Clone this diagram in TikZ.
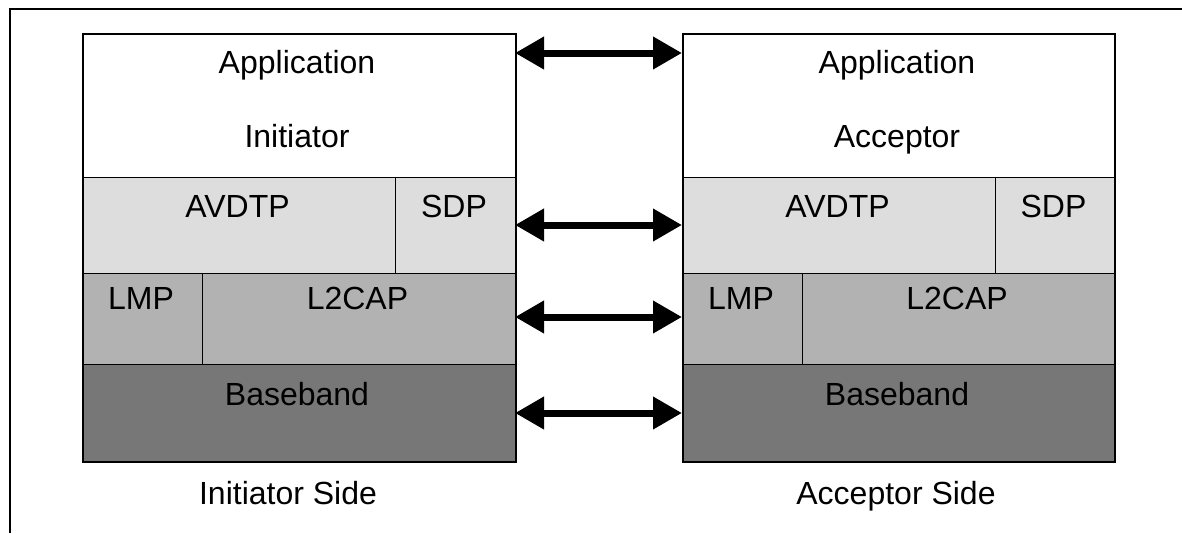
\documentclass[tikz,border=0pt]{standalone}
\usepackage{fontspec}
\setmainfont{Liberation Sans}
\usetikzlibrary{arrows.meta}
\definecolor{lay1}{HTML}{DDDDDD}
\definecolor{lay2}{HTML}{B2B2B2}
\definecolor{lay3}{HTML}{777777}
\tikzset{
  cell/.style={draw=black, line width=1.3pt, inner sep=0pt, anchor=north west},
  lbl/.style={anchor=base, inner sep=0pt, font=\fontsize{32}{38}\selectfont},
  outerbox/.style={draw=black, line width=2.2pt, inner sep=0pt, anchor=north west, fill=none},
  link/.style={line width=7pt, {Triangle[length=29pt,width=31pt]}-{Triangle[length=29pt,width=31pt]}},
  frameline/.style={line width=2pt, black}
}
\begin{document}
\begin{tikzpicture}[x=1pt,y=-1pt]
\useasboundingbox (0,0) rectangle (1182,533);
\fill[white] (0,0) rectangle (1182,533);
% frame
\coordinate (fa) at (10,533);
\coordinate (fb) at (10,8.7);
\coordinate (fc) at (1182,8.7);
\draw[frameline] (fa) -- (fb) -- (fc);
% left stack
\node[cell, fill=white, minimum width=433pt, minimum height=144pt] (appL) at (82,33) {};
\node[cell, fill=lay1, minimum width=313pt, minimum height=96pt] (avdtpL) at (82,177) {};
\node[cell, fill=lay1, minimum width=120pt, minimum height=96pt] (sdpL) at (395,177) {};
\node[cell, fill=lay2, minimum width=120pt, minimum height=91pt] (lmpL) at (82,273) {};
\node[cell, fill=lay2, minimum width=313pt, minimum height=91pt] (l2capL) at (202,273) {};
\node[cell, fill=lay3, minimum width=433pt, minimum height=97pt] (bbL) at (82,364) {};
\node[outerbox, minimum width=433pt, minimum height=428pt] (stackL) at (82,33) {};
% right stack
\node[cell, fill=white, minimum width=432pt, minimum height=144pt] (appR) at (682,33) {};
\node[cell, fill=lay1, minimum width=313pt, minimum height=96pt] (avdtpR) at (682,177) {};
\node[cell, fill=lay1, minimum width=119pt, minimum height=96pt] (sdpR) at (995,177) {};
\node[cell, fill=lay2, minimum width=120pt, minimum height=91pt] (lmpR) at (682,273) {};
\node[cell, fill=lay2, minimum width=312pt, minimum height=91pt] (l2capR) at (802,273) {};
\node[cell, fill=lay3, minimum width=432pt, minimum height=97pt] (bbR) at (682,364) {};
\node[outerbox, minimum width=432pt, minimum height=428pt] (stackR) at (682,33) {};
% labels left
\node[lbl] (t1) at (297,73) {Application};
\node[lbl] (t2) at (297,147) {Initiator};
\node[lbl] (t3) at (237.5,217) {AVDTP};
\node[lbl] (t4) at (454,217) {SDP};
\node[lbl] (t5) at (141,309) {LMP};
\node[lbl] (t6) at (357.5,309) {L2CAP};
\node[lbl] (t7) at (297,405) {Baseband};
\node[lbl] (t8) at (288,504) {Initiator Side};
% labels right
\node[lbl] (u1) at (897,73) {Application};
\node[lbl] (u2) at (897,147) {Acceptor};
\node[lbl] (u3) at (837.5,217) {AVDTP};
\node[lbl] (u4) at (1053.5,217) {SDP};
\node[lbl] (u5) at (741,309) {LMP};
\node[lbl] (u6) at (957,309) {L2CAP};
\node[lbl] (u7) at (897,405) {Baseband};
\node[lbl] (u8) at (896,504) {Acceptor Side};
% arrows
\coordinate (a1) at (515,53);  \coordinate (b1) at (682,53);
\coordinate (a2) at (515,225); \coordinate (b2) at (682,225);
\coordinate (a3) at (515,317); \coordinate (b3) at (682,317);
\coordinate (a4) at (515,413); \coordinate (b4) at (682,413);
\draw[link] (a1) -- (b1);
\draw[link] (a2) -- (b2);
\draw[link] (a3) -- (b3);
\draw[link] (a4) -- (b4);
\end{tikzpicture}
\end{document}
